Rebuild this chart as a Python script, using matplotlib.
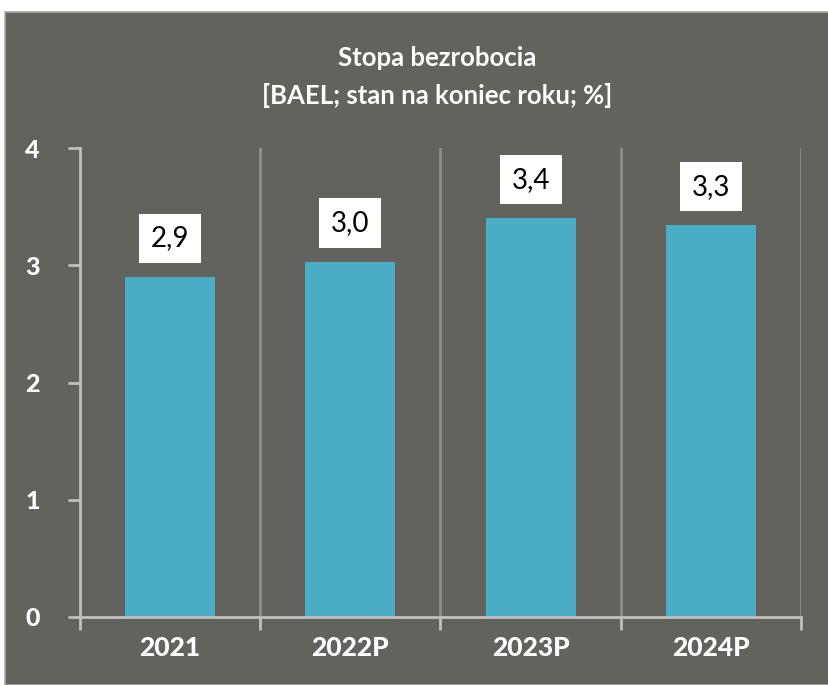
import matplotlib.pyplot as plt
import matplotlib.patches as patches
import numpy as np

plt.rcParams['font.family'] = ['Lato', 'DejaVu Sans']

# data
years = ['2021', '2022P', '2023P', '2024P']
rate = [2.9, 3.03, 3.4, 3.34]
labels = ['2,9', '3,0', '3,4', '3,3']

BG = '#63635e'
BAR = '#4bacc6'
AXIS = '#c0c0c0'
GRID = '#8e8e8a'

fig = plt.figure(figsize=(8.29, 6.85), dpi=100, facecolor='white')
# grey panel with a thin border, white strip at top like the original
fig.patches.append(patches.Rectangle((5/829, 0), 1 - 5/829, 1 - 12/685,
                                     transform=fig.transFigure, facecolor=BG,
                                     edgecolor='#a8a8a8', linewidth=1.2, zorder=-5))

ax = fig.add_axes([80/829, 1 - 617/685, 721/829, (617 - 148)/685])
ax.set_zorder(2)
ax.patch.set_alpha(0)

x = np.arange(len(years))
ax.bar(x, rate, width=0.5, color=BAR, zorder=2)

for xi, v, lab in zip(x, rate, labels):
    ax.text(xi, v + 0.33, lab, ha='center', va='center', fontsize=20, color='black',
            bbox=dict(boxstyle='square,pad=0.42', facecolor='white', edgecolor='none'),
            zorder=3)

# vertical separators between categories
for b in np.arange(0.5, len(years), 1.0):
    ax.axvline(b, color=GRID, linewidth=2, zorder=1)

ax.set_xlim(-0.5, len(years) - 0.5)
ax.set_ylim(0, 4)
ax.set_yticks([0, 1, 2, 3, 4])
ax.set_xticks(x)
ax.set_xticklabels(years)
ax.set_xticks(np.arange(-0.5, len(years), 1.0), minor=True)

for s in ['top', 'right']:
    ax.spines[s].set_visible(False)
for s in ['left', 'bottom']:
    ax.spines[s].set_color(AXIS)
    ax.spines[s].set_linewidth(2)

ax.tick_params(axis='y', colors=AXIS, length=9, width=2, pad=20, labelsize=18,
               labelcolor='white')
ax.tick_params(axis='x', which='major', length=0, pad=14, labelsize=19, labelcolor='white')
ax.tick_params(axis='x', which='minor', length=9, width=2, color=AXIS)
for t in ax.get_xticklabels() + ax.get_yticklabels():
    t.set_fontweight('black')

fig.text(437/829, 1 - 77/685, 'Stopa bezrobocia\n[BAEL; stan na koniec roku; %]',
         color='white', fontsize=18.5, fontweight='bold', linespacing=1.65,
         ha='center', va='center', zorder=3)

fig.savefig('out.png', dpi=100, facecolor=fig.get_facecolor())
